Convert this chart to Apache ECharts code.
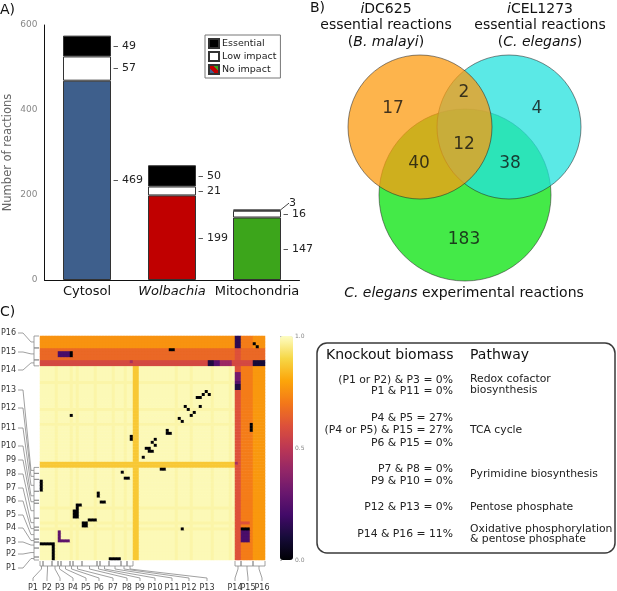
<!DOCTYPE html>
<html><head><meta charset="utf-8">
<script src="https://cdn.jsdelivr.net/npm/echarts@6/dist/echarts.min.js"></script>
<style>html,body{margin:0;padding:0;background:#fff}#c{width:617px;height:591px}</style>
</head><body><div id="c"></div>
<script>
const FONT = 'DejaVu Sans';

// ---------- Panel A data ----------
const categories = ['Cytosol', 'Wolbachia', 'Mitochondria'];
const noImpact = [469, 199, 147];
const lowImpact = [57, 21, 16];
const essential = [49, 50, 3];
const yTicks = [0, 200, 400, 600];
const noImpactColors = ['#3e5f8c', '#c00000', '#3ca51b'];

// ---------- Panel B data ----------
const vennCounts = ['17', '2', '4', '12', '40', '38', '183'];

// ---------- Panel C data ----------
const groupNames = ['P1','P2','P3','P4','P5','P6','P7','P8','P9','P10','P11','P12','P13','P14','P15','P16'];
const groupStart = [0, 1, 4, 6, 7, 10, 11, 14, 19, 20, 23, 27, 29, 65, 67, 71];
const groupEnd   = [0, 3, 5, 6, 9, 10, 13, 18, 19, 22, 26, 28, 30, 66, 70, 74];
// background shade per row (index 0 = bottom) and per column (index 0 = left)
const rowShade = [
 .99,.99,.99,.99,.99,.99,.99,.99,.99,.99,
 .978,.99,.978,.99,.99,.99,.99,.978,.99,.99,
 .99,.99,.99,.99,.99,.99,.99,.99,.99,.99,
 .99,.87,.87,.99,.99,.99,.99,.99,.99,.99,
 .99,.99,.99,.99,.99,.978,.99,.99,.99,.99,
 .978,.99,.99,.99,.99,.99,.99,.99,.99,.978,
 .99,.99,.99,.99,.99,.57,.57,.66,.66,.66,
 .66,.76,.76,.76,.76];
const colShade = [
 .99,.99,.99,.99,.99,.978,.99,.99,.99,.99,
 .978,.99,.978,.99,.99,.99,.99,.99,.978,.99,
 .99,.99,.99,.99,.978,.99,.99,.99,.978,.99,
 .99,.87,.87,.99,.99,.99,.99,.99,.99,.99,
 .99,.99,.99,.99,.99,.978,.99,.99,.99,.99,
 .978,.99,.99,.99,.99,.99,.99,.978,.99,.99,
 .99,.99,.99,.978,.99,.60,.60,.71,.71,.71,
 .71,.77,.77,.77,.77];
// knockout blocks: [col0, col1, row0, row1, value]
const marks = [
 [6,9,68,69,.22],[10,10,68,69,0],
 [67,69,6,9,.22],[67,69,10,10,0],[67,69,12,12,.6],
 [43,44,70,70,0],[70,70,43,45,0],
 [71,71,72,72,0],[72,72,71,71,0],
 [71,74,65,66,.1],[65,66,71,74,.15],
 [56,57,65,66,.12],[58,59,65,66,.25],[60,63,65,66,.42],
 [65,66,57,58,.12],[65,66,59,59,.25],[65,66,60,62,.32],
 [30,30,66,66,.45],[65,65,32,32,.45],
 [0,0,23,26,0],[23,26,0,0,0],[0,4,5,5,0],[4,4,0,4,0],
 [6,6,6,9,.27],[7,9,6,6,.27],
 [11,12,14,16,0],[12,12,17,18,0],[13,13,18,18,0],
 [14,15,11,12,0],[16,18,13,13,0],
 [19,19,21,22,0],[20,21,19,19,0],
 [27,27,29,29,0],[28,29,27,27,0],
 [30,30,40,41,0],[40,41,30,30,0],
 [10,10,48,48,0],[47,47,10,10,0],
 [34,34,34,34,0],
 [35,36,37,37,0],[36,37,36,36,0],
 [38,38,40,40,0],[37,37,39,39,0],[38,38,38,38,0],
 [42,42,42,43,0],[43,43,42,42,0],
 [46,46,47,47,0],[47,47,46,46,0],
 [48,48,51,51,0],[49,49,50,50,0],[51,51,49,49,0],[50,50,48,48,0],
 [52,53,54,54,0],[53,53,51,51,0],
 [54,54,55,55,0],[55,55,56,56,0],[56,56,55,55,0]
];
const colorbarTicks = [0, 0.5, 1.0];
const tableLeft = [
 ['(P1 or P2) & P3 = 0%', 'P1 & P11 = 0%'],
 ['P4 & P5 = 27%', '(P4 or P5) & P15 = 27%', 'P6 & P15 = 0%'],
 ['P7 & P8 = 0%', 'P9 & P10 = 0%'],
 ['P12 & P13 = 0%'],
 ['P14 & P16 = 11%']
];
const tableRight = [
 ['Redox cofactor', 'biosynthesis'],
 ['TCA cycle'],
 ['Pyrimidine biosynthesis'],
 ['Pentose phosphate'],
 ['Oxidative phosphorylation', '& pentose phosphate']
];

// ---------- layout (not data) ----------
const vennGeom = [[135,145,86],[179,77,72],[90,77,72]]; // green, cyan, orange (draw order)
const vennFill = ['rgba(6,227,11,0.75)','rgba(36,226,222,0.75)','rgba(252,155,16,0.75)'];
const vennLabelPos = [[63,59],[134,43],[207,59],[134,95],[89,114],[180,114],[134,190]];
const leftLabelY = [568,554,542,528,515,501,488,474,460,446,428,408,390,370,352,333];
const bottomLabelX = [33,47,60,73,86,99,113,127,140,155,172,189,207,235,248,262];
const tableLeftY = [[380,391],[418,430,443],[469,481],[507],[534]];
const tableRightY = [[379,390],[430],[474],[507],[529,539]];

const N = rowShade.length;
const cellCats = Array.from({length:N}, (_,i)=>String(i));
const markVal = {};
marks.forEach(m => { for (let c=m[0]; c<=m[1]; c++) for (let r=m[2]; r<=m[3]; r++) markVal[c+','+r] = m[4]; });
const heat = [];
for (let r=0; r<N; r++) for (let c=0; c<N; c++) {
  const k = c+','+r;
  heat.push([c, r, (k in markVal) ? markVal[k] : Math.min(rowShade[r], colShade[c])]);
}

const chart = echarts.init(document.getElementById('c'));
const legendGrad = new echarts.graphic.LinearGradient(0,1,1,0,[
 {offset:0,color:noImpactColors[0]},{offset:0.36,color:noImpactColors[0]},
 {offset:0.36,color:noImpactColors[1]},{offset:0.64,color:noImpactColors[1]},
 {offset:0.64,color:noImpactColors[2]},{offset:1,color:noImpactColors[2]}]);

const barLabel = {show:true, position:'right', distance:2, color:'#222', fontSize:11, fontFamily:FONT,
  formatter: p => '– ' + p.value};

chart.setOption({
  animation:false,
  textStyle:{fontFamily:FONT},
  grid:[
    {left:44.5, top:25, width:255, height:255},
    {left:330, top:50, width:270, height:240},
    {left:40, top:336, width:225, height:224},
    {left:280, top:336, width:13, height:224}
  ],
  xAxis:[
    {gridIndex:0, type:'category', data:categories, axisTick:{show:false},
     axisLine:{lineStyle:{color:'#111', width:1}},
     axisLabel:{color:'#111', fontSize:13, fontFamily:FONT, margin:5, interval:0, hideOverlap:false,
       formatter: v => v==='Wolbachia' ? '{it|Wolbachia}' : v,
       rich:{it:{fontStyle:'italic', fontSize:13, fontFamily:FONT, color:'#111'}}}},
    {gridIndex:1, type:'value', min:0, max:270, show:false},
    {gridIndex:2, type:'category', data:cellCats, show:false},
    {gridIndex:3, type:'value', min:0, max:1, show:false}
  ],
  yAxis:[
    {gridIndex:0, type:'value', min:yTicks[0], max:yTicks[yTicks.length-1], interval:200,
     axisLine:{show:true, lineStyle:{color:'#111'}}, axisTick:{show:false}, splitLine:{show:false},
     axisLabel:{color:'#888', fontSize:9, margin:7},
     name:'Number of reactions', nameLocation:'middle', nameGap:30, nameRotate:90,
     nameTextStyle:{color:'#666', fontSize:11.5, fontFamily:FONT}},
    {gridIndex:1, type:'value', min:0, max:240, inverse:true, show:false},
    {gridIndex:2, type:'category', data:cellCats, show:false},
    {gridIndex:3, type:'value', min:0, max:1, interval:0.5, position:'right',
     axisLine:{show:false}, splitLine:{show:false},
     axisTick:{show:true, length:2, lineStyle:{color:'#888', width:0.6}},
     axisLabel:{color:'#888', fontSize:6, margin:2, formatter: v => v.toFixed(1)}}
  ],
  legend:{
    left:205, top:35, orient:'vertical', itemWidth:10, itemHeight:9, itemGap:2,
    padding:[3,4,3,3], borderColor:'#777', borderWidth:1, icon:'rect',
    data:['Essential','Low impact','No impact'],
    textStyle:{fontSize:9.5, fontFamily:FONT, color:'#222', lineHeight:9, padding:[0,0,0,-2]}
  },
  visualMap:{
    type:'continuous', seriesIndex:5, min:0, max:1, calculable:false, show:true,
    left:280, top:336, itemWidth:13, itemHeight:224, padding:0, text:null,
    inRange:{color:['#000004','#160b39','#420a68','#6a176e','#932667','#bc3754','#dd513a','#f37819','#fca50a','#f6d746','#fdfdc4']}
  },
  series:[
    {name:'No impact', type:'bar', stack:'a', xAxisIndex:0, yAxisIndex:0, barWidth:48,
     itemStyle:{color:legendGrad, borderColor:'#333', borderWidth:1},
     label:barLabel,
     data:noImpact.map((v,i)=>({value:v, itemStyle:{color:noImpactColors[i]}}))},
    {name:'Low impact', type:'bar', stack:'a', xAxisIndex:0, yAxisIndex:0, barWidth:48,
     itemStyle:{color:'#ffffff', borderColor:'#333', borderWidth:1},
     label:barLabel, data:lowImpact},
    {name:'Essential', type:'bar', stack:'a', xAxisIndex:0, yAxisIndex:0, barWidth:48,
     itemStyle:{color:'#000000', borderColor:'#333', borderWidth:1},
     label:barLabel,
     labelLayout: p => p.dataIndex===2 ? {dy:-7, dx:6} : {},
     labelLine:{show:false, lineStyle:{color:'#444', width:1}},
     data:essential.map((v,i)=> i===2 ? {value:v, label:{formatter:String(v)}, labelLine:{show:true}} : v)},
    {type:'custom', xAxisIndex:1, yAxisIndex:1, silent:true,
     renderItem:(params, api) => {
       const c = api.coord([api.value(0), api.value(1)]);
       const r = api.size([api.value(2), 0])[0];
       return {type:'circle', shape:{cx:c[0], cy:c[1], r:r},
         style:{fill:vennFill[params.dataIndex], stroke:'rgba(40,40,40,0.55)', lineWidth:1}};
     },
     data:vennGeom},
    {type:'scatter', xAxisIndex:1, yAxisIndex:1, symbolSize:1, itemStyle:{color:'rgba(0,0,0,0)'}, z:5, silent:true,
     label:{show:true, position:'inside', formatter: p => p.name, color:'#111', fontSize:17, fontFamily:FONT},
     data:vennLabelPos.map((p,i)=>({name:vennCounts[i], value:p}))},
    {type:'heatmap', xAxisIndex:2, yAxisIndex:2, progressive:0, data:heat, itemStyle:{borderWidth:0}},
    {type:'scatter', xAxisIndex:3, yAxisIndex:3, data:[]}
  ]
});

// ---------- annotations (text + brackets) ----------
const g = [];
const txt = (x,y,text,o) => g.push(Object.assign({type:'text', silent:true, style:Object.assign({
  x, y, text, fill:'#111', fontSize:12, fontFamily:FONT, textAlign:'left', textVerticalAlign:'middle'}, o||{})}));
txt(0,10,'A)',{fontSize:14});
txt(310,8,'B)',{fontSize:14});
txt(0,312,'C)',{fontSize:14});
const it = {fontStyle:'italic', fontSize:14, fontFamily:FONT, fill:'#111'};
const rg = {fontSize:14, fontFamily:FONT, fill:'#111'};
txt(386,9,'{i|i}{r|DC625}',{textAlign:'center', rich:{i:it, r:rg}});
txt(386,25,'essential reactions',{textAlign:'center', fontSize:14});
txt(386,42,'{r|(}{i|B. malayi}{r|)}',{textAlign:'center', rich:{i:it, r:rg}});
txt(540,9,'{i|i}{r|CEL1273}',{textAlign:'center', rich:{i:it, r:rg}});
txt(540,25,'essential reactions',{textAlign:'center', fontSize:14});
txt(540,42,'{r|(}{i|C. elegans}{r|)}',{textAlign:'center', rich:{i:it, r:rg}});
txt(464,293,'{i|C. elegans}{r| experimental reactions}',{textAlign:'center', rich:{i:it, r:rg}});

// table
g.push({type:'rect', silent:true, shape:{x:317, y:343, width:298, height:210, r:10},
  style:{fill:'#fff', stroke:'#3a3a3a', lineWidth:1.5}});
txt(326,355,'Knockout biomass',{fontSize:14});
txt(470,355,'Pathway',{fontSize:14});
tableLeft.forEach((rows,k)=>rows.forEach((s,j)=>txt(453,tableLeftY[k][j],s,{textAlign:'right', fontSize:10.8, fill:'#222'})));
tableRight.forEach((rows,k)=>rows.forEach((s,j)=>txt(470,tableRightY[k][j],s,{fontSize:10.8, fill:'#222'})));

// brackets via heatmap axes
const px = j => chart.convertToPixel({gridIndex:2},[j,0])[0];
const py = i => chart.convertToPixel({gridIndex:2},[0,i])[1];
const hw = Math.abs(px(1)-px(0))/2, hh = Math.abs(py(1)-py(0))/2;
const line = pts => g.push({type:'polyline', silent:true, shape:{points:pts}, style:{stroke:'#888', lineWidth:0.8, fill:null}});
const gl = px(0)-hw, gb = py(0)+hh;
groupNames.forEach((name,k)=>{
  const ya = py(groupEnd[k])-hh, yb = py(groupStart[k])+hh, ym=(ya+yb)/2, yl = leftLabelY[k];
  line([[gl-1,ya],[gl-6,ya],[gl-6,yb],[gl-1,yb]]);
  line([[gl-6,ym],[gl-9,ym],[23,yl],[18,yl]]);
  txt(16,yl,name,{textAlign:'right', fontSize:8, fill:'#333'});
  const xa = px(groupStart[k])-hw, xb = px(groupEnd[k])+hw, xm=(xa+xb)/2, xl = bottomLabelX[k];
  line([[xa,gb+1],[xa,gb+6],[xb,gb+6],[xb,gb+1]]);
  line([[xm,gb+6],[xm,gb+9],[xl,gb+18],[xl,gb+21]]);
  txt(xl,588,name,{textAlign:'center', fontSize:8, fill:'#333'});
});
chart.setOption({graphic:g});
</script></body></html>
